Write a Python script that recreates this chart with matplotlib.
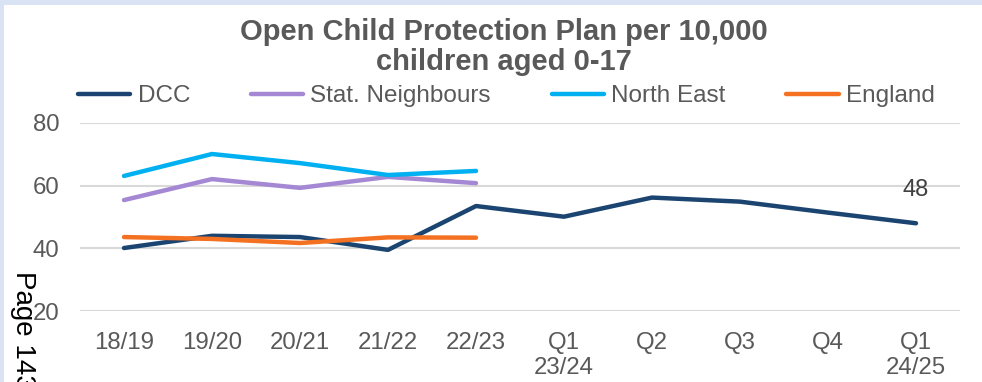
import matplotlib
matplotlib.use('Agg')
import matplotlib.pyplot as plt
from matplotlib.patches import Rectangle

plt.rcParams['font.family'] = ['Liberation Sans', 'DejaVu Sans']

# data
periods = ['18/19', '19/20', '20/21', '21/22', '22/23', 'Q1\n23/24', 'Q2', 'Q3', 'Q4', 'Q1\n24/25']
dcc = [40.1, 44.0, 43.6, 39.5, 53.5, 50.1, 56.2, 54.9, 51.4, 48.0]
stat_neighbours = [55.4, 62.1, 59.3, 62.8, 60.8]
north_east = [63.1, 70.1, 67.2, 63.4, 64.7]
england = [43.6, 43.0, 41.7, 43.5, 43.4]

grey = '#595959'

fig = plt.figure(figsize=(9.82, 3.82), dpi=100)
fig.patch.set_facecolor('#dae3f3')
# white card inside the light blue page border
fig.add_artist(Rectangle((4 / 982, 0), 1, 1 - 5 / 382, transform=fig.transFigure,
                         facecolor='white', edgecolor='none', zorder=0))

ax = fig.add_axes([80 / 982, 1 - 311 / 382, 880 / 982, 188 / 382])
ax.set_facecolor('none')

x_all = range(len(periods))
x_year = range(len(stat_neighbours))

ax.plot(x_all, dcc, color='#1b4570', lw=3.2, solid_capstyle='round', label='DCC', zorder=3)
ax.plot(x_year, stat_neighbours, color='#a488d4', lw=3.2, solid_capstyle='round', label='Stat. Neighbours')
ax.plot(x_year, north_east, color='#00b0f0', lw=3.2, solid_capstyle='round', label='North East')
ax.plot(x_year, england, color='#f47121', lw=3.2, solid_capstyle='round', label='England', zorder=4)

ax.annotate(f'{dcc[-1]:.0f}', (len(dcc) - 1, dcc[-1]), xytext=(0, 24), textcoords='offset points',
            ha='center', va='center', fontsize=17, color='#404040')

ax.set_xlim(-0.5, len(periods) - 0.5)
ax.set_ylim(20, 80)
ax.set_yticks([20, 40, 60, 80])
ax.set_xticks(list(x_all))
ax.set_xticklabels(periods, linespacing=1.2)
ax.tick_params(axis='both', length=0, labelsize=17.3, labelcolor=grey)
ax.tick_params(axis='y', pad=15)
ax.tick_params(axis='x', pad=15)
ax.grid(axis='y', color='#d9d9d9', lw=1.5)
ax.set_axisbelow(True)
for s in ax.spines.values():
    s.set_visible(False)

fig.text(0.513, 1 - 47 / 382, 'Open Child Protection Plan per 10,000\nchildren aged 0-17',
         ha='center', va='center', fontsize=21, fontweight='bold', color=grey, linespacing=1.05)

leg = fig.legend(loc='center left', bbox_to_anchor=(78 / 982, 1 - 96 / 382), ncol=4, frameon=False,
                 fontsize=17.5, handlelength=2.15, handletextpad=0.3, columnspacing=2.5,
                 borderpad=0, borderaxespad=0)
for t in leg.get_texts():
    t.set_color(grey)

fig.text(23 / 982, 1 - 271 / 382, 'Page 143', rotation=-90, ha='center', va='top',
         fontsize=20, color='black')

fig.savefig('out.png', dpi=100, facecolor=fig.get_facecolor())
